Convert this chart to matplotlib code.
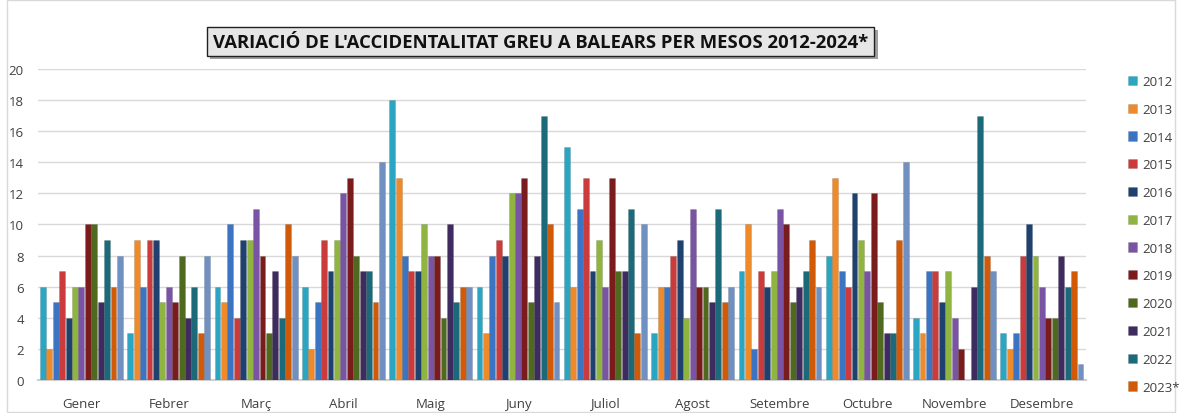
import matplotlib.pyplot as plt
import numpy as np
from matplotlib.patches import Rectangle

plt.rcParams['font.family'] = ['Open Sans', 'DejaVu Sans']

months = ["Gener", "Febrer", "Març", "Abril", "Maig", "Juny", "Juliol",
          "Agost", "Setembre", "Octubre", "Novembre", "Desembre"]
years = ["2012", "2013", "2014", "2015", "2016", "2017", "2018",
         "2019", "2020", "2021", "2022", "2023*", "2024*"]

# valors per any (un valor per mes)
v2012 = [6, 3, 6, 6, 18, 6, 15, 3, 7, 8, 4, 3]
v2013 = [2, 9, 5, 2, 13, 3, 6, 6, 10, 13, 3, 2]
v2014 = [5, 6, 10, 5, 8, 8, 11, 6, 2, 7, 7, 3]
v2015 = [7, 9, 4, 9, 7, 9, 13, 8, 7, 6, 7, 8]
v2016 = [4, 9, 9, 7, 7, 8, 7, 9, 6, 12, 5, 10]
v2017 = [6, 5, 9, 9, 10, 12, 9, 4, 7, 9, 7, 8]
v2018 = [6, 6, 11, 12, 8, 12, 6, 11, 11, 7, 4, 6]
v2019 = [10, 5, 8, 13, 8, 13, 13, 6, 10, 12, 2, 4]
v2020 = [10, 8, 3, 8, 4, 5, 7, 6, 5, 5, 0, 4]
v2021 = [5, 4, 7, 7, 10, 8, 7, 5, 6, 3, 6, 8]
v2022 = [9, 6, 4, 7, 5, 17, 11, 11, 7, 3, 17, 6]
v2023 = [6, 3, 10, 5, 6, 10, 3, 5, 9, 9, 8, 7]
v2024 = [8, 8, 8, 14, 6, 5, 10, 6, 6, 14, 7, 1]
series = [v2012, v2013, v2014, v2015, v2016, v2017, v2018,
          v2019, v2020, v2021, v2022, v2023, v2024]

colors = ["#2aa5c2", "#ee8a2a", "#3b74c2", "#cc3b3b", "#1f416f", "#8fb540",
          "#7a54a4", "#7a1c1c", "#4f6a1f", "#3e2b5f", "#1c6a79", "#d15a08",
          "#6f90c0"]

fig = plt.figure(figsize=(11.8, 4.14), dpi=100)
ax = fig.add_axes([0.032, 0.080, 0.888, 0.751])

n = len(series)
slot = 1.0 / (n + 0.6)
x = np.arange(len(months))
for i, vals in enumerate(series):
    pos = x - 0.5 + slot * 0.3 + slot * (i + 0.5)
    ax.bar(pos, vals, width=slot * 0.92, color=colors[i],
           edgecolor="#00000030", linewidth=0.4, zorder=3,
           label=years[i] if i < 12 else "_nolegend_")

ax.set_xlim(-0.5, len(months) - 0.5)
ax.set_ylim(0, 20)
ax.set_yticks(range(0, 21, 2))
ax.set_xticks(x)
ax.set_xticklabels(months)
ax.tick_params(axis="both", length=0, labelsize=9.5, colors="#404040")
ax.tick_params(axis="y", pad=10)
ax.tick_params(axis="x", pad=12)
ax.grid(axis="y", color="#d9d9d9", linewidth=1, zorder=0)
for s in ["top", "right", "left"]:
    ax.spines[s].set_visible(False)
ax.spines["bottom"].set_color("#d0d0d0")
ax.spines["bottom"].set_linewidth(1.5)

leg = fig.legend(loc="upper left", bbox_to_anchor=(0.946, 0.845),
                 frameon=False, fontsize=9.5, labelspacing=1.12,
                 handlelength=0.7, handleheight=0.7, handletextpad=0.4)
for t in leg.get_texts():
    t.set_color("#404040")

# caixa del títol amb ombra
fig.patches.append(Rectangle((0.178, 0.855), 0.566, 0.070, transform=fig.transFigure,
                             facecolor="#a0a0a0", edgecolor="none", zorder=1))
fig.patches.append(Rectangle((0.175, 0.862), 0.566, 0.070, transform=fig.transFigure,
                             facecolor="#e6e6e6", edgecolor="#202020", linewidth=1, zorder=2))
fig.text(0.458, 0.897, "VARIACIÓ DE L'ACCIDENTALITAT GREU A BALEARS PER MESOS 2012-2024*",
         ha="center", va="center", fontsize=13.3, fontweight="bold", color="#111111", zorder=3)

fig.patches.append(Rectangle((0.006, 0.003), 0.990, 0.994, transform=fig.transFigure,
                             facecolor="none", edgecolor="#d9d9d9", linewidth=1))

fig.savefig("out.png", dpi=100)
